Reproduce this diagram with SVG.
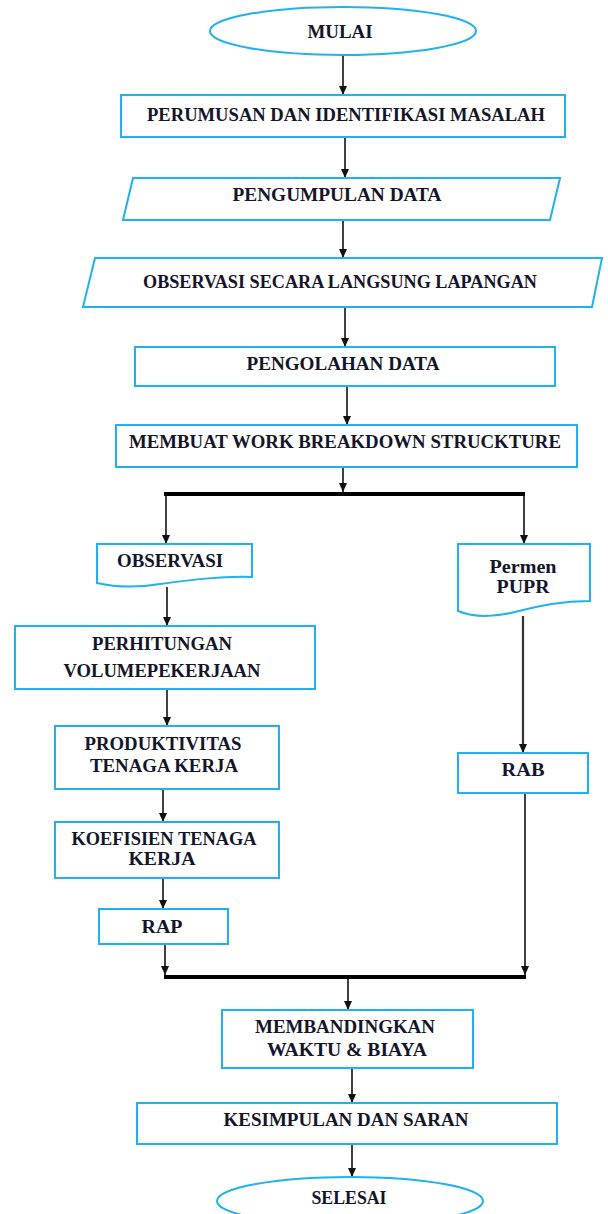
<svg xmlns="http://www.w3.org/2000/svg" width="608" height="1214" viewBox="0 0 608 1214">
<style>
.n{fill:#fff;stroke:#1fb2ef;stroke-width:2}
.t{font-family:"Liberation Serif","Times New Roman",serif;font-weight:bold;font-size:19px;fill:#14142a;text-anchor:middle}
.c{stroke:#111;stroke-width:1.6;fill:none}
.bar{stroke:#000;stroke-width:4;fill:none}
</style>
<defs>
<marker id="ah" markerUnits="userSpaceOnUse" markerWidth="10" markerHeight="10" refX="9" refY="5" orient="auto">
<path d="M0,1 L9,5 L0,9 Z" fill="#111"/>
</marker>
</defs>
<rect width="608" height="1214" fill="#fff"/>
<g id="connectors">
<line class="c" x1="343" y1="55" x2="343" y2="95" marker-end="url(#ah)"/>
<line class="c" x1="345" y1="137" x2="345" y2="178" marker-end="url(#ah)"/>
<line class="c" x1="343" y1="220" x2="343" y2="258" marker-end="url(#ah)"/>
<line class="c" x1="345" y1="307" x2="345" y2="347" marker-end="url(#ah)"/>
<line class="c" x1="347" y1="386" x2="347" y2="425" marker-end="url(#ah)"/>
<line class="c" x1="343" y1="467" x2="343" y2="492" marker-end="url(#ah)"/>
<line class="bar" x1="164" y1="494" x2="525" y2="494"/>
<line class="c" x1="166" y1="494" x2="166" y2="544" marker-end="url(#ah)"/>
<line class="c" x1="524" y1="494" x2="524" y2="544" marker-end="url(#ah)"/>
<line class="c" x1="167" y1="587" x2="167" y2="626" marker-end="url(#ah)"/>
<line class="c" x1="523" y1="616" x2="523" y2="753" marker-end="url(#ah)" style="stroke:#333;stroke-width:2.2"/>
<line class="c" x1="167" y1="689" x2="167" y2="726" marker-end="url(#ah)"/>
<line class="c" x1="163" y1="789" x2="163" y2="822" marker-end="url(#ah)"/>
<line class="c" x1="163" y1="878" x2="163" y2="909" marker-end="url(#ah)"/>
<line class="c" x1="165" y1="944" x2="165" y2="975" marker-end="url(#ah)"/>
<line class="c" x1="525" y1="793" x2="525" y2="975" marker-end="url(#ah)"/>
<line class="bar" x1="164" y1="977" x2="526" y2="977"/>
<line class="c" x1="348" y1="979" x2="348" y2="1010" marker-end="url(#ah)"/>
<line class="c" x1="352" y1="1068" x2="352" y2="1103" marker-end="url(#ah)"/>
<line class="c" x1="352" y1="1144" x2="352" y2="1177" marker-end="url(#ah)"/>
</g>
<g id="mulai"><ellipse class="n" cx="343" cy="31" rx="133" ry="24"/><text class="t" x="340" y="38" textLength="65" lengthAdjust="spacingAndGlyphs">MULAI</text></g>
<g id="perumusan"><rect class="n" x="121" y="95" width="444" height="42"/><text class="t" x="346" y="121" textLength="398" lengthAdjust="spacingAndGlyphs">PERUMUSAN DAN IDENTIFIKASI MASALAH</text></g>
<g id="pengumpulan"><polygon class="n" points="133,178 560,178 550,220 123,220"/><text class="t" x="337" y="201" textLength="209" lengthAdjust="spacingAndGlyphs">PENGUMPULAN DATA</text></g>
<g id="observasi-lapangan"><polygon class="n" points="95,258 602,258 592,307 83,307"/><text class="t" x="340" y="288" textLength="394" lengthAdjust="spacingAndGlyphs">OBSERVASI SECARA LANGSUNG LAPANGAN</text></g>
<g id="pengolahan"><rect class="n" x="135" y="347" width="420" height="39"/><text class="t" x="343" y="370" textLength="193" lengthAdjust="spacingAndGlyphs">PENGOLAHAN DATA</text></g>
<g id="wbs"><rect class="n" x="116" y="425" width="461" height="42"/><text class="t" x="345" y="448" textLength="432" lengthAdjust="spacingAndGlyphs">MEMBUAT WORK BREAKDOWN STRUCKTURE</text></g>
<g id="observasi"><path class="n" d="M97,544 H252 V577 C220,576 190,580 160,584 C130,589 110,586 97,583 Z"/><text class="t" x="170" y="567" textLength="106" lengthAdjust="spacingAndGlyphs">OBSERVASI</text></g>
<g id="permen"><path class="n" d="M458,544 H590 V601 C560,601 540,606 515,612 C490,618 470,616 458,611 Z"/><text class="t" x="523" y="573" textLength="67" lengthAdjust="spacingAndGlyphs">Permen</text><text class="t" x="523" y="593" textLength="53" lengthAdjust="spacingAndGlyphs">PUPR</text></g>
<g id="perhitungan"><rect class="n" x="15" y="626" width="300" height="63"/><text class="t" x="162" y="650" textLength="140" lengthAdjust="spacingAndGlyphs">PERHITUNGAN</text><text class="t" x="162" y="677" textLength="197" lengthAdjust="spacingAndGlyphs">VOLUMEPEKERJAAN</text></g>
<g id="produktivitas"><rect class="n" x="55" y="726" width="224" height="63"/><text class="t" x="163" y="750" textLength="157" lengthAdjust="spacingAndGlyphs">PRODUKTIVITAS</text><text class="t" x="164" y="772" textLength="148" lengthAdjust="spacingAndGlyphs">TENAGA KERJA</text></g>
<g id="koefisien"><rect class="n" x="55" y="822" width="224" height="56"/><text class="t" x="164" y="845" textLength="185" lengthAdjust="spacingAndGlyphs">KOEFISIEN TENAGA</text><text class="t" x="162" y="865" textLength="67" lengthAdjust="spacingAndGlyphs">KERJA</text></g>
<g id="rap"><rect class="n" x="99" y="909" width="129" height="35"/><text class="t" x="162" y="933" textLength="41" lengthAdjust="spacingAndGlyphs">RAP</text></g>
<g id="rab"><rect class="n" x="458" y="753" width="130" height="40"/><text class="t" x="523" y="776" textLength="43" lengthAdjust="spacingAndGlyphs">RAB</text></g>
<g id="membandingkan"><rect class="n" x="222" y="1010" width="251" height="58"/><text class="t" x="345" y="1033" textLength="180" lengthAdjust="spacingAndGlyphs">MEMBANDINGKAN</text><text class="t" x="347" y="1056" textLength="160" lengthAdjust="spacingAndGlyphs">WAKTU &amp; BIAYA</text></g>
<g id="kesimpulan"><rect class="n" x="137" y="1103" width="420" height="41"/><text class="t" x="346" y="1126" textLength="245" lengthAdjust="spacingAndGlyphs">KESIMPULAN DAN SARAN</text></g>
<g id="selesai"><ellipse class="n" cx="350" cy="1201" rx="133" ry="24"/><text class="t" x="349" y="1204" textLength="75" lengthAdjust="spacingAndGlyphs">SELESAI</text></g>
</svg>
